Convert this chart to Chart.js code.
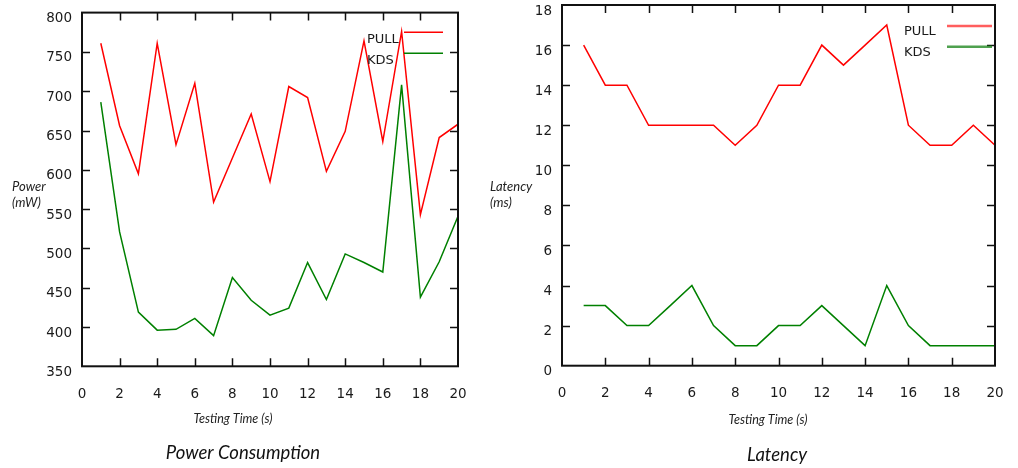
<!DOCTYPE html>
<html>
<head>
<meta charset="utf-8">
<script src="https://cdn.jsdelivr.net/npm/chart.js@4.4.1/dist/chart.umd.min.js"></script>
<style>
  html, body { margin: 0; padding: 0; background: #fff; }
  #wrap { position: relative; width: 1018px; height: 468px; overflow: hidden; }
  .pane { position: absolute; top: 0; height: 468px; }
  #powerPane { left: 0; width: 480px; }
  #latencyPane { left: 480px; width: 538px; }
</style>
</head>
<body>
<div id="wrap">
  <div class="pane" id="powerPane"><canvas id="powerChart"></canvas></div>
  <div class="pane" id="latencyPane"><canvas id="latencyChart"></canvas></div>
</div>
<script>
// Sample times (s)
const seconds = [1, 2, 3, 4, 5, 6, 7, 8, 9, 10, 11, 12, 13, 14, 15, 16, 17, 18, 19, 20];

// Power consumption (mW)
const powerPull = [761, 656, 595, 761, 632, 710, 559, 615, 671, 585, 706, 692, 598, 649, 764, 636, 776, 543, 641, 658];
const powerKds  = [686, 521, 419, 396, 397, 411, 389, 463, 434, 415, 424, 482, 435, 493, 482, 470, 708, 438, 483, 541];

// Latency (ms)
const latencyPull = [16, 14, 14, 12, 12, 12, 12, 11, 12, 14, 14, 16, 15, 16, 17, 12, 11, 11, 12, 11];
const latencyKds  = [3, 3, 2, 2, 3, 4, 2, 1, 1, 2, 2, 3, 2, 1, 4, 2, 1, 1, 1, 1];

// Axis ranges and tick steps
const timeRange = [0, 20];
const timeStep = 2;
const powerRange = [350, 800];
const powerStep = 50;
const latencyRange = [0, 18];
const latencyStep = 2;

// Series names and text
const seriesNames = ['PULL', 'KDS'];
const xTitle = 'Testing Time (s)';
const powerTitle = 'Power Consumption';
const powerAxisTitle = ['Power', '(mW)'];
const latencyTitle = 'Latency';
const latencyAxisTitle = ['Latency', '(ms)'];

const TICK_FONT = { family: 'DejaVu Sans', size: 13.5 };
const TEXT_COLOR = '#1a1a1a';

const toPoints = vals => vals.map((v, i) => ({ x: seconds[i], y: v }));

// Frame with inward tick marks on all four sides
const framePlugin = {
  id: 'frame',
  afterDatasetsDraw(chart) {
    const { ctx, chartArea: a, scales } = chart;
    const len = 8;
    ctx.save();
    ctx.strokeStyle = '#111';
    ctx.lineWidth = 1.5;
    ctx.beginPath();
    scales.x.ticks.forEach(t => {
      if (t.value <= scales.x.min || t.value >= scales.x.max) return;
      const px = Math.round(scales.x.getPixelForValue(t.value)) + 0.5;
      ctx.moveTo(px, a.top); ctx.lineTo(px, a.top + len);
      ctx.moveTo(px, a.bottom); ctx.lineTo(px, a.bottom - len);
    });
    scales.y.ticks.forEach(t => {
      if (t.value <= scales.y.min || t.value >= scales.y.max) return;
      const py = Math.round(scales.y.getPixelForValue(t.value)) + 0.5;
      ctx.moveTo(a.left, py); ctx.lineTo(a.left + len, py);
      ctx.moveTo(a.right, py); ctx.lineTo(a.right - len, py);
    });
    ctx.stroke();
    ctx.lineWidth = 2;
    ctx.strokeRect(a.left, a.top, a.right - a.left, a.bottom - a.top);
    ctx.restore();
  }
};

// Key with label on the left and line sample on the right, plus axis and chart titles
const textPlugin = {
  id: 'texts',
  afterDraw(chart, args, opts) {
    const { ctx, chartArea: a } = chart;
    ctx.save();
    // key
    ctx.font = '13px "DejaVu Sans"';
    ctx.fillStyle = TEXT_COLOR;
    ctx.textBaseline = 'middle';
    ctx.textAlign = 'left';
    chart.data.datasets.forEach((ds, i) => {
      const ly = opts.keyTop + i * opts.keyGap;
      ctx.fillText(ds.label, a.right - opts.keyText, ly + opts.keyTextDrop);
      ctx.strokeStyle = opts.keyColors[i];
      ctx.lineWidth = opts.keyWidth;
      ctx.beginPath();
      ctx.moveTo(a.right - opts.keyLine[0], ly);
      ctx.lineTo(a.right - opts.keyLine[1], ly);
      ctx.stroke();
    });
    // y axis title, two horizontal lines
    ctx.font = 'italic 13px Lato';
    ctx.fillStyle = '#222';
    opts.yTitle.forEach((s, i) => ctx.fillText(s, opts.yTitleX, opts.yTitleY + i * 16));
    // x axis title
    ctx.textAlign = 'center';
    ctx.font = 'italic 12.5px Lato';
    ctx.fillText(xTitle, opts.xTitleX, opts.xTitleY);
    // chart title
    ctx.font = 'italic 18.5px Lato';
    ctx.fillStyle = '#111';
    ctx.fillText(opts.title, opts.titleX, opts.titleY);
    ctx.restore();
  }
};

function makeChart(id, pull, kds, yRange, yStep, pad, bottom, canvasH, texts) {
  return new Chart(document.getElementById(id), {
    type: 'line',
    data: {
      datasets: [
        { label: seriesNames[0], data: toPoints(pull), borderColor: '#ff0000', borderWidth: 1.5 },
        { label: seriesNames[1], data: toPoints(kds), borderColor: '#008000', borderWidth: 1.5 }
      ]
    },
    options: {
      responsive: true,
      maintainAspectRatio: false,
      animation: false,
      events: [],
      layout: { padding: pad },
      elements: { point: { radius: 0 }, line: { tension: 0 } },
      plugins: { legend: { display: false }, tooltip: { enabled: false }, texts: texts },
      scales: {
        x: {
          type: 'linear',
          min: timeRange[0], max: timeRange[1],
          grid: { display: false, drawTicks: false },
          border: { display: false },
          ticks: { stepSize: timeStep, font: TICK_FONT, color: TEXT_COLOR, padding: 20, maxRotation: 0 },
          afterFit(s) {
            s.height = canvasH - bottom;
            s.paddingLeft = 0; s.paddingRight = 0;
          }
        },
        y: {
          min: yRange[0], max: yRange[1],
          grid: { display: false, drawTicks: false },
          border: { display: false },
          ticks: { stepSize: yStep, font: TICK_FONT, color: TEXT_COLOR, padding: 10, labelOffset: 6 },
          afterFit(s) {
            s.width = 82;
            s.paddingTop = 0; s.paddingBottom = 0;
          }
        }
      }
    },
    plugins: [framePlugin, textPlugin]
  });
}

makeChart('powerChart', powerPull, powerKds, powerRange, powerStep,
  { top: 12.6, right: 22, left: 0, bottom: 0 }, 366.3, 468, {
    keyTop: 32.3, keyGap: 21, keyTextDrop: 7, keyText: 91, keyLine: [54, 15],
    keyColors: ['#ff0000', '#008000'], keyWidth: 1.5,
    yTitle: powerAxisTitle, yTitleX: 12, yTitleY: 187,
    xTitleX: 233, xTitleY: 419,
    title: powerTitle, titleX: 243, titleY: 453
  });

makeChart('latencyChart', latencyPull, latencyKds, latencyRange, latencyStep,
  { top: 5, right: 23, left: 0, bottom: 0 }, 365.7, 468, {
    keyTop: 26, keyGap: 20.7, keyTextDrop: 6, keyText: 91, keyLine: [48, 3],
    keyColors: ['rgba(255,40,40,0.75)', 'rgba(20,130,20,0.75)'], keyWidth: 2.5,
    yTitle: latencyAxisTitle, yTitleX: 10, yTitleY: 187,
    xTitleX: 288, xTitleY: 420,
    title: latencyTitle, titleX: 297, titleY: 455
  });
</script>
</body>
</html>
